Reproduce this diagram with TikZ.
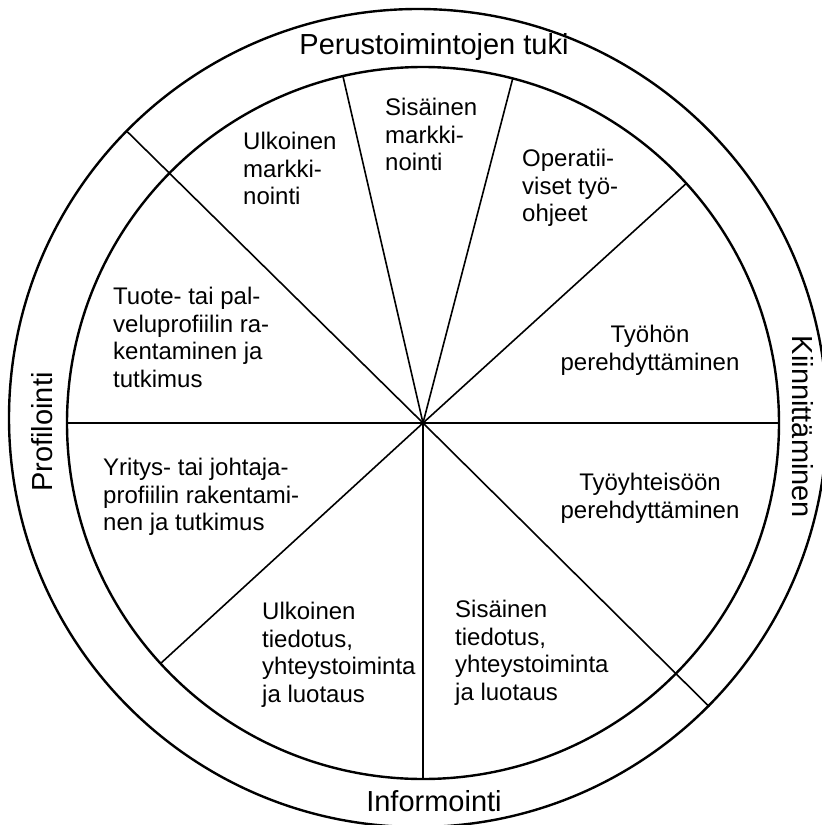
\documentclass[tikz,border=0pt]{standalone}
\usepackage{fontspec}
\setmainfont{Liberation Sans}
\usetikzlibrary{calc}
\tikzset{
  ring/.style={line width=2.4pt},
  spoke/.style={line width=1.6pt},
  segtext/.style={inner sep=0pt, anchor=north west, align=left, font=\fontsize{24}{27.6}\selectfont},
  segtextc/.style={inner sep=0pt, anchor=north, align=center, font=\fontsize{24}{27.6}\selectfont},
  ringtext/.style={inner sep=0pt, font=\fontsize{29}{33}\selectfont}
}
\begin{document}
\begin{tikzpicture}[x=1pt,y=-1pt]
\useasboundingbox (0,0) rectangle (822,825);
\clip (0,0) rectangle (822,825);
\coordinate (c) at (423,423);
\coordinate (o) at (418,418);
% circles
\draw[ring] (o) circle[radius=409];
\draw[ring] (c) circle[radius=356];
% spoke ends
\coordinate (s0) at ($(c)+(0:356)$);
\coordinate (s1) at ($(c)+(-42.3:356)$);
\coordinate (s2) at ($(c)+(-75.4:356)$);
\coordinate (s3) at ($(c)+(-103:356)$);
\coordinate (s4) at ($(c)+(-180:356)$);
\coordinate (s5) at ($(c)+(-222.5:356)$);
\coordinate (s6) at ($(c)+(-270:356)$);
\coordinate (o1) at (127.3,131.7);
\coordinate (o2) at (709.3,706.7);
\foreach \e in {s0,s1,s2,s3,s4,s5,s6,o1,o2}
  \draw[spoke] (c) -- (\e);
% ring labels
\node[ringtext] (top) at (434,47) {Perustoimintojen tuki};
\node[ringtext] (bot) at (434,801) {Informointi};
\node[ringtext, rotate=90] (left) at (42,432) {Profilointi};
\node[ringtext, rotate=-90] (right) at (803,427) {Kiinnittäminen};
% segment labels
\node[segtext] (t1) at (243,132) {Ulkoinen\\markki-\\nointi};
\node[segtext] (t2) at (385,98) {Sisäinen\\markki-\\nointi};
\node[segtext] (t3) at (522,149) {Operatii-\\viset työ-\\ohjeet};
\node[segtextc] (t4) at (650,325) {Työhön\\perehdyttäminen};
\node[segtextc] (t5) at (650,473) {Työyhteisöön\\perehdyttäminen};
\node[segtext] (t6) at (113,287) {Tuote- tai pal-\\veluprofiilin ra-\\kentaminen ja\\tutkimus};
\node[segtext] (t7) at (103,458) {Yritys- tai johtaja-\\profiilin rakentami-\\nen ja tutkimus};
\node[segtext] (t8) at (262,602) {Ulkoinen\\tiedotus,\\yhteystoiminta\\ja luotaus};
\node[segtext] (t9) at (455,600) {Sisäinen\\tiedotus,\\yhteystoiminta\\ja luotaus};
\end{tikzpicture}
\end{document}
